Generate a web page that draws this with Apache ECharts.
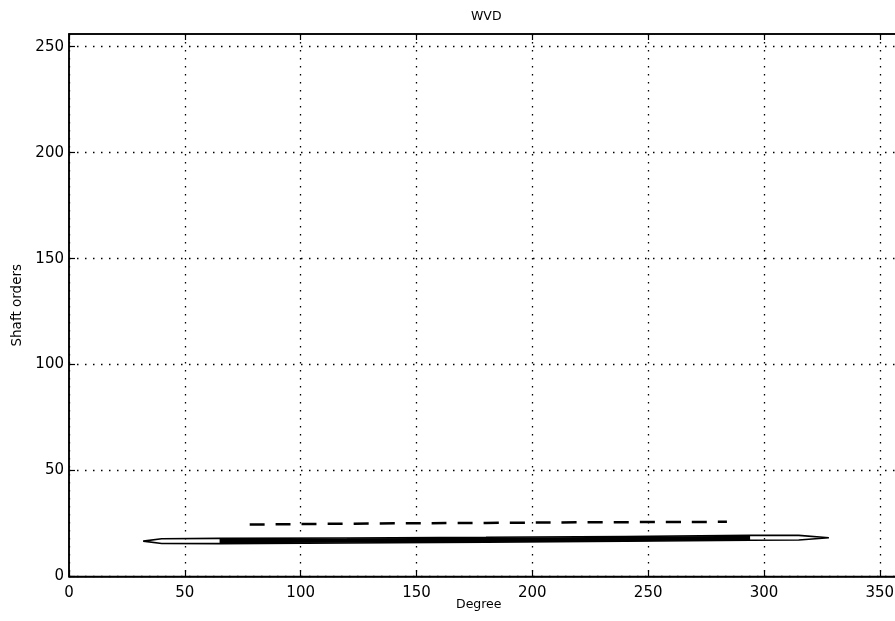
<!DOCTYPE html>
<html>
<head>
<meta charset="utf-8">
<script src="https://cdn.jsdelivr.net/npm/echarts@6/dist/echarts.min.js"></script>
<style>
  html, body { margin: 0; padding: 0; background: #fff; }
  #chart { width: 895px; height: 621px; }
</style>
</head>
<body>
<div id="chart"></div>
<script>
// Axis ticks
const xTicks = [0, 50, 100, 150, 200, 250, 300, 350];
const yTicks = [0, 50, 100, 150, 200, 250];

// Outline of the main ridge contour (upper edge left->right, lower edge right->left)
const lensX = [32, 40, 65, 120, 180, 240, 294, 315, 328, 315, 294, 240, 180, 120, 65, 40, 32];
const lensY = [16.7, 17.8, 18.0, 18.2, 18.5, 18.9, 19.4, 19.4, 18.3, 17.2, 17.1, 16.6, 16.2, 15.8, 15.5, 15.6, 16.7];

// Filled core of the ridge
const coreX = [65, 120, 180, 240, 294];
const coreY = [16.8, 17.0, 17.3, 17.7, 18.2];

// Secondary (dashed) ridge
const dashX = [78, 130, 180, 230, 284];
const dashY = [24.5, 25.0, 25.3, 25.6, 25.8];

const pairs = (xs, ys) => xs.map((x, i) => [x, ys[i]]);

const FONT = '"DejaVu Sans", sans-serif';
const chart = echarts.init(document.getElementById('chart'));

const tickStyle = { show: true, inside: true, length: 6, lineStyle: { color: '#000', width: 1.2 } };
const lineStyle = { show: true, lineStyle: { color: '#000', width: 1.5 } };
const gridDots = { show: true, lineStyle: { color: '#000', width: 1.3, type: [1.5, 6.5] } };

chart.setOption({
  animation: false,
  backgroundColor: '#fff',
  title: {
    text: 'WVD',
    left: 466, top: 5,
    textStyle: { fontFamily: FONT, fontSize: 12.5, fontWeight: 'normal', color: '#000' }
  },
  grid: {
    left: 69, top: 34, width: 834, height: 542.5,
    outerBoundsMode: 'none', containLabel: false,
    show: true, borderColor: '#000', borderWidth: 1.5, backgroundColor: 'transparent'
  },
  xAxis: [{
    type: 'value', min: 0, max: 360, interval: 50, position: 'bottom',
    axisLine: lineStyle,
    axisTick: { ...tickStyle, customValues: xTicks },
    axisLabel: { color: '#000', fontFamily: FONT, fontSize: 15, margin: 9, customValues: xTicks },
    splitLine: gridDots
  }, {
    type: 'value', min: 0, max: 360, interval: 50, position: 'top',
    axisLine: lineStyle,
    axisTick: { ...tickStyle, customValues: xTicks },
    axisLabel: { show: false },
    splitLine: { show: false }
  }],
  yAxis: {
    type: 'value', min: 0, max: 256, interval: 50,
    axisLine: lineStyle,
    axisTick: { ...tickStyle, customValues: yTicks },
    axisLabel: { color: '#000', fontFamily: FONT, fontSize: 15, margin: 5, customValues: yTicks },
    splitLine: gridDots,
    name: 'Shaft orders', nameLocation: 'middle', nameGap: 40, nameRotate: 90,
    nameTextStyle: { color: '#000', fontFamily: FONT, fontSize: 13.5 }
  },
  graphic: [{
    type: 'text', left: 456, top: 598,
    style: { text: 'Degree', font: '12.5px "DejaVu Sans", sans-serif', fill: '#000' }
  }],
  series: [{
    type: 'line', name: 'contour', data: pairs(lensX, lensY),
    showSymbol: false, symbol: 'none',
    lineStyle: { color: '#000', width: 1.6 }
  }, {
    type: 'line', name: 'core', data: pairs(coreX, coreY),
    showSymbol: false, symbol: 'none', smooth: true,
    lineStyle: { color: '#000', width: 4.5 }
  }, {
    type: 'line', name: 'secondary', data: pairs(dashX, dashY),
    showSymbol: false, symbol: 'none', smooth: true,
    lineStyle: { color: '#000', width: 2.5, type: [15, 11] }
  }]
});
</script>
</body>
</html>
